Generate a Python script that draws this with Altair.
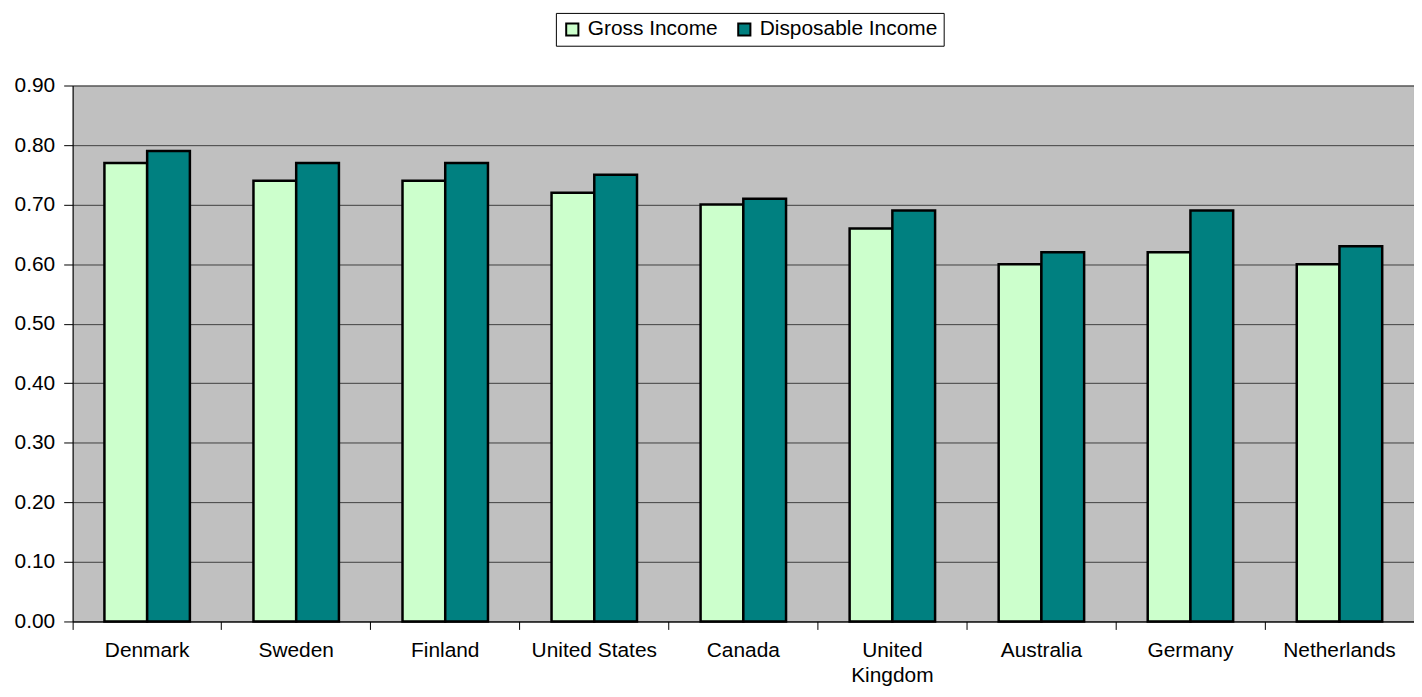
import altair as alt
import pandas as pd

countries = ["Denmark", "Sweden", "Finland", "United States", "Canada",
             "United Kingdom", "Australia", "Germany", "Netherlands"]
gross = [0.77, 0.74, 0.74, 0.72, 0.70, 0.66, 0.60, 0.62, 0.60]
disposable = [0.79, 0.77, 0.77, 0.75, 0.71, 0.69, 0.62, 0.69, 0.63]
series = ["Gross Income", "Disposable Income"]
colors = ["#CCFFCC", "#008080"]
y_ticks = [0.0, 0.1, 0.2, 0.3, 0.4, 0.5, 0.6, 0.7, 0.8, 0.9]

rows = []
for c, g, d in zip(countries, gross, disposable):
    rows.append({"country": c, "series": series[0], "value": g})
    rows.append({"country": c, "series": series[1], "value": d})
df = pd.DataFrame(rows)

FONT = "Liberation Sans"

chart = alt.Chart(df).mark_bar(stroke="black", strokeWidth=2.5).encode(
    x=alt.X("country:N", sort=countries, title=None,
            scale=alt.Scale(paddingInner=0, paddingOuter=0),
            axis=alt.Axis(labelAngle=0, bandPosition=0, tickSize=8,
                          labelPadding=10, domainColor="black", tickColor="black",
                          labelLineHeight=25,
                          labelExpr="datum.value == 'United Kingdom' ? ['United', 'Kingdom'] : datum.value")),
    xOffset=alt.XOffset("series:N", sort=series,
                        scale=alt.Scale(paddingInner=0, paddingOuter=0.744)),
    y=alt.Y("value:Q", title=None,
            scale=alt.Scale(domain=[0, 0.9], nice=False),
            axis=alt.Axis(values=y_ticks, format=".2f", tickSize=9, labelPadding=9,
                          domainColor="black", tickColor="black",
                          grid=True, gridColor="#404040", gridWidth=1)),
    color=alt.Color("series:N", sort=series,
                    scale=alt.Scale(domain=series, range=colors),
                    legend=alt.Legend(title=None, orient="none", direction="horizontal",
                                      legendX=486, legendY=-73,
                                      strokeColor="black", padding=6,
                                      symbolType="square", symbolSize=150,
                                      symbolStrokeColor="black", symbolStrokeWidth=2,
                                      labelFontSize=21, labelFont=FONT, labelColor="black",
                                      labelLimit=0,
                                      columnPadding=16, labelOffset=5)),
).properties(
    width=1349, height=539,
    autosize=alt.AutoSizeParams(type="none"),
    padding={"left": 65, "top": 76, "right": 0, "bottom": 70},
).configure_view(
    fill="#C0C0C0", stroke="#808080", strokeWidth=1
).configure_axis(
    labelFont=FONT, labelFontSize=21, labelColor="black"
)

chart.save("out.html", embed_options={"renderer": "svg", "actions": False})
